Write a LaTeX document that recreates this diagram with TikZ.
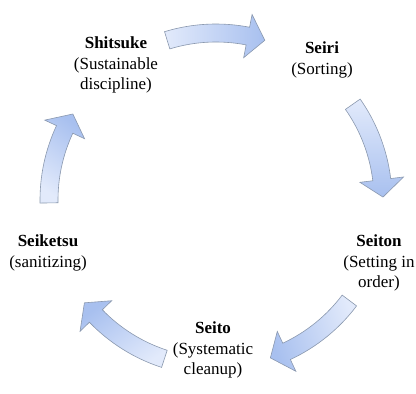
\documentclass[tikz,border=0pt]{standalone}
\usepackage{fontspec}
\setmainfont{Liberation Serif}
\definecolor{arrlight}{HTML}{E2EAFB}
\definecolor{arrdark}{HTML}{A8C0EF}
\definecolor{arredge}{HTML}{8A98AE}
\tikzset{
  cyclearrow/.style={draw=arredge, line width=0.6pt, left color=arrlight, right color=arrdark, line join=miter},
  label/.style={align=center, inner sep=0pt, font=\fontsize{17}{20.6}\selectfont}
}
% #1 tail angle, #2 tip angle, #3 shading angle
\newcommand{\cycarrow}[3]{%
  \shadedraw[cyclearrow, shading angle=#3, shift={(216,-200)}]
    (#1:176) arc[start angle=#1, end angle=#2+6, radius=176]
    -- (#2+6:189) -- (#2:167) -- (#2+6:145) -- (#2+6:158)
    arc[start angle=#2+6, end angle=#1, radius=158] -- cycle;}
\begin{document}
\begin{tikzpicture}[x=1pt, y=1pt]
\useasboundingbox (0,0) rectangle (416,-394);
\cycarrow{107}{73}{90}
\cycarrow{35}{1}{0}
\cycarrow{-37}{-71}{-72}
\cycarrow{-108}{-142}{-144}
\cycarrow{181}{149}{144}
\node[label] (shitsuke) at (116,-65) {\textbf{Shitsuke}\\(Sustainable\\discipline)};
\node[label] (seiri) at (322,-60) {\textbf{Seiri}\\(Sorting)};
\node[label] (seiton) at (379,-263) {\textbf{Seiton}\\(Setting in\\order)};
\node[label] (seito) at (213,-350) {\textbf{Seito}\\(Systematic\\cleanup)};
\node[label] (seiketsu) at (48,-253) {\textbf{Seiketsu}\\(sanitizing)};
\end{tikzpicture}
\end{document}
